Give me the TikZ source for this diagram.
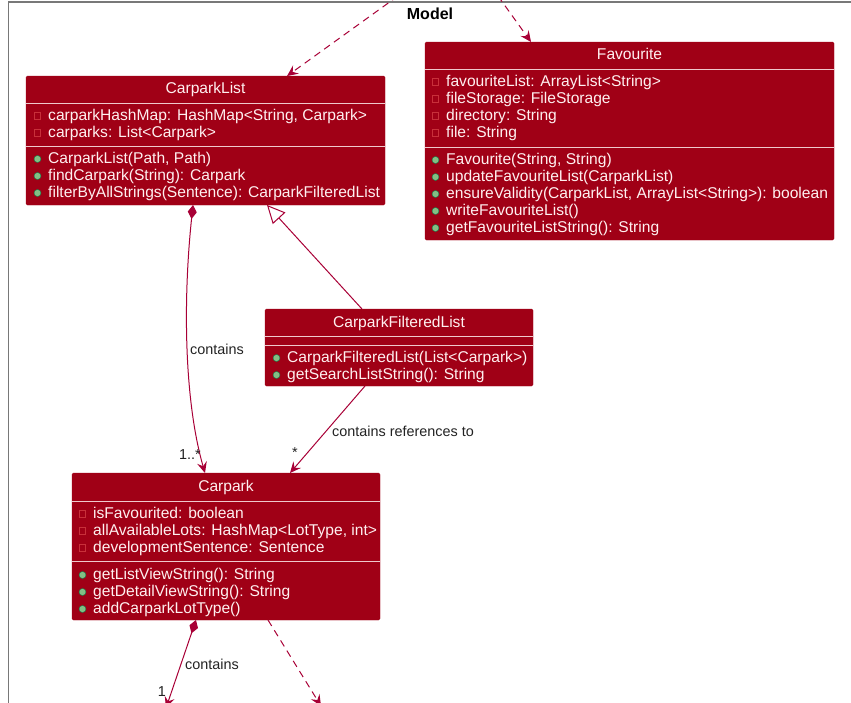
\documentclass[tikz,border=0pt]{standalone}
\usepackage{fontspec}
\setmainfont{Liberation Sans}
\usetikzlibrary{arrows.meta}
\definecolor{boxred}{HTML}{A00016}
\definecolor{sepc}{HTML}{F0C8CC}
\definecolor{txtc}{HTML}{FFF0F0}
\definecolor{arrc}{HTML}{A80036}
\definecolor{privc}{HTML}{C8303A}
\definecolor{pubf}{HTML}{84BE84}
\definecolor{pubd}{HTML}{038048}
\definecolor{framec}{HTML}{787878}
\definecolor{lblc}{HTML}{222222}
\newcommand{\privm}[4]{\node[privicon] (#3-i) at (#1-10.5,#2) {}; \node[member] (#3) at (#1,#2) {#4};}
\newcommand{\pubm}[4]{\node[pubicon] (#3-i) at (#1-10.5,#2) {}; \node[member] (#3) at (#1,#2) {#4};}
\begin{document}
\begin{tikzpicture}[x=1pt,y=-1pt,
  classbox/.style={draw=boxred, fill=boxred, rounded corners=1.5pt, anchor=north west, inner sep=0pt, outer sep=0pt},
  ctitle/.style={text=txtc, font=\fontsize{15.6}{17}\selectfont, inner sep=0pt, text height=11pt, text depth=3pt},
  member/.style={text=txtc, font=\fontsize{15.6}{17}\selectfont, anchor=west, inner sep=0pt, text height=11pt, text depth=3pt},
  sepline/.style={draw=sepc, line width=1pt},
  privicon/.style={draw=privc, line width=0.7pt, minimum size=6.5pt, inner sep=0pt, rectangle},
  pubicon/.style={draw=pubd, fill=pubf, circle, minimum size=7pt, inner sep=0pt, line width=0.4pt},
  lbl/.style={text=lblc, font=\fontsize{14.4}{16}\selectfont, inner sep=0pt},
  conn/.style={draw=arrc, line width=1pt},
  dep/.style={conn, dash pattern=on 7pt off 5pt, -{Stealth[length=11pt,width=10pt,inset=4pt]}},
  assoc/.style={conn, -{Stealth[length=11pt,width=10pt,inset=4pt]}},
  comp/.style={conn, {Diamond[length=14pt,width=9pt]}-{Stealth[length=11pt,width=10pt,inset=4pt]}},
  gen/.style={conn, -{Triangle[open,length=18pt,width=17pt,fill=white]}}
]
\useasboundingbox (0,0) rectangle (851,702);
% package frame
\draw[framec, line width=1.3pt] (852,2) -- (8.5,2) -- (8.5,703);
\node[font=\bfseries\fontsize{16}{18}\selectfont, inner sep=0pt] (model) at (430,14) {Model};

% CarparkList
\node[classbox, minimum width=359pt, minimum height=129pt] (cl) at (26,76) {};
\node[ctitle] (cl-t) at (205.5,89) {CarparkList};
\draw[sepline] (26,103) -- (385,103);
\draw[sepline] (26,146) -- (385,146);
\privm{48}{116}{cl-a1}{carparkHashMap: HashMap<String, Carpark>}
\privm{48}{133}{cl-a2}{carparks: List<Carpark>}
\pubm{48}{159}{cl-m1}{CarparkList(Path, Path)}
\pubm{48}{176}{cl-m2}{findCarpark(String): Carpark}
\pubm{48}{193}{cl-m3}{filterByAllStrings(Sentence): CarparkFilteredList}

% Favourite
\node[classbox, minimum width=409pt, minimum height=198pt] (fv) at (425,42) {};
\node[ctitle] (fv-t) at (629.5,55) {Favourite};
\draw[sepline] (425,69) -- (834,69);
\draw[sepline] (425,147) -- (834,147);
\privm{446}{82}{fv-a1}{favouriteList: ArrayList<String>}
\privm{446}{99}{fv-a2}{fileStorage: FileStorage}
\privm{446}{116}{fv-a3}{directory: String}
\privm{446}{133}{fv-a4}{file: String}
\pubm{446}{160}{fv-m1}{Favourite(String, String)}
\pubm{446}{177}{fv-m2}{updateFavouriteList(CarparkList)}
\pubm{446}{194}{fv-m3}{ensureValidity(CarparkList, ArrayList<String>): boolean}
\pubm{446}{211}{fv-m4}{writeFavouriteList()}
\pubm{446}{228}{fv-m5}{getFavouriteListString(): String}

% CarparkFilteredList
\node[classbox, minimum width=268pt, minimum height=77pt] (cf) at (265,309) {};
\node[ctitle] (cf-t) at (399,323) {CarparkFilteredList};
\draw[sepline] (265,336) -- (533,336);
\draw[sepline] (265,345) -- (533,345);
\pubm{287}{358}{cf-m1}{CarparkFilteredList(List<Carpark>)}
\pubm{287}{375}{cf-m2}{getSearchListString(): String}

% Carpark
\node[classbox, minimum width=308pt, minimum height=147pt] (cp) at (72,473) {};
\node[ctitle] (cp-t) at (226,487) {Carpark};
\draw[sepline] (72,501) -- (380,501);
\draw[sepline] (72,561) -- (380,561);
\privm{93}{514}{cp-a1}{isFavourited: boolean}
\privm{93}{531}{cp-a2}{allAvailableLots: HashMap<LotType, int>}
\privm{93}{548}{cp-a3}{developmentSentence: Sentence}
\pubm{93}{575}{cp-m1}{getListViewString(): String}
\pubm{93}{592}{cp-m2}{getDetailViewString(): String}
\pubm{93}{609}{cp-m3}{addCarparkLotType()}

% free ends
\coordinate (in1) at (398,-4);
\coordinate (in2) at (498,-4);
\coordinate (out1) at (166,708);
\coordinate (out2) at (321,706);

% connectors
\draw[dep] (in1) -- ([xshift=261pt]cl.north west);
\draw[dep] (in2) -- ([xshift=106pt]fv.north west);
\draw[comp] ([xshift=167pt]cl.south west) .. controls (183,300) and (184,400) .. ([xshift=133pt]cp.north west);
\draw[gen] ([xshift=97pt]cf.north west) -- ([xshift=241pt]cl.south west);
\draw[assoc] ([xshift=100pt]cf.south west) -- ([xshift=218pt]cp.north west);
\draw[comp] ([xshift=124pt]cp.south west) -- (out1);
\draw[dep] ([xshift=196pt]cp.south west) -- (out2);

% labels
\node[lbl] (l1) at (217,349) {contains};
\node[lbl] (l2) at (190,455) {1..*};
\node[lbl] (l3) at (403,431) {contains references to};
\node[lbl] (l4) at (295,453) {*};
\node[lbl] (l5) at (212,664) {contains};
\node[lbl] (l6) at (162,692) {1};
\end{tikzpicture}
\end{document}
